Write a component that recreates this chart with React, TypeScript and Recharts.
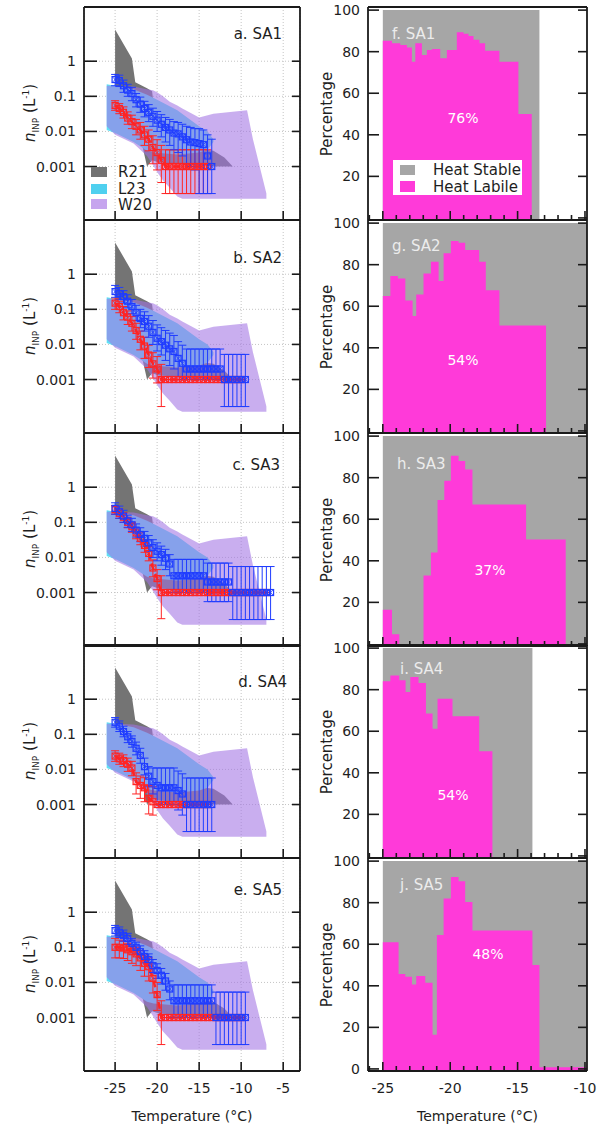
import React from 'react';
import { ComposedChart, Area, Line, Scatter, ErrorBar, XAxis, YAxis, CartesianGrid } from 'recharts';

const FONT = '"DejaVu Sans", "Liberation Sans", Arial, sans-serif';
const INK = '#1e1e1e';
const BLUE = '#1f3cff';
const RED = '#ff2424';
const MAGENTA = '#ff3ad9';
const STABLE = '#a6a6a6';

// rows of the figure (page px)
const ROW_TOP = [7, 220, 433, 645, 858];
const ROW_H = 213;
const MT = 8;

// shared temperature grid of the INP spectra
const TEMPS = [-25, -24.5, -24, -23.5, -23, -22.5, -22, -21.5, -21, -20.5, -20, -19.5, -19, -18.5, -18, -17.5, -17, -16.5, -16, -15.5,
  -15, -14.5, -14, -13.5, -13, -12.5, -12, -11.5, -11, -10.5, -10, -9.5, -9, -8.5, -8, -7.5, -7, -6.5];

const LEFT_XTICKS = [-25, -20, -15, -10, -5];
const NINP_TICKS = [0.001, 0.01, 0.1, 1];
const RIGHT_XTICKS = [-25, -20, -15, -10];
const RIGHT_ALL_XTICKS = [-26, -25, -24, -23, -22, -21, -20, -19, -18, -17, -16, -15, -14, -13, -12, -11, -10];
const PCT_TICKS = [20, 40, 60, 80, 100];
const PCT_TICKS_LAST = [0, 20, 40, 60, 80, 100];

// literature ranges: temperature, lower, upper
const R21_T = [-25, -23, -22.6, -21.2, -20.6, -19.8, -15.2, -13.3, -12, -11];
const R21_LO = [0.2, 0.05, 0.03, 0.001, 0.0015, 0.0013, 0.0011, 0.001, 0.001, 0.001];
const R21_HI = [8, 1.2, 0.25, 0.17, 0.14, 0.004, 0.0032, 0.0028, 0.0018, 0.001];
const L23_T = [-26, -25, -22.8, -21.2, -20.4, -17.6, -15, -14, -13.3];
const L23_LO = [0.011, 0.009, 0.005, 0.0028, 0.0025, 0.0022, 0.0025, 0.003, 0.005];
const L23_HI = [0.22, 0.2, 0.16, 0.11, 0.09, 0.04, 0.014, 0.01, 0.006];
const W20_T = [-26, -25, -22.8, -21.2, -20.5, -20, -19.3, -18.5, -17.6, -17, -15, -13.3, -9.3, -8.6, -7];
const W20_LO = [0.014, 0.008, 0.0045, 0.002, 0.0011, 0.0007, 0.0004, 0.00025, 0.00014, 0.00012, 0.00012, 0.00012, 0.00012, 0.00012, 0.00012];
const W20_HI = [0.2, 0.2, 0.19, 0.16, 0.15, 0.13, 0.1, 0.07, 0.055, 0.045, 0.025, 0.032, 0.04, 0.006, 0.00017];

const LIT_NAMES = ['R21', 'L23', 'W20'];
const LIT_SWATCH = ['#727272', '#4fd0ef', '#c6a5ee'];

// SA1
const BLUE_A = [0.3, 0.28, 0.2, 0.15, 0.12, 0.08, 0.06, 0.045, 0.035, 0.027, 0.021, 0.016, 0.013, 0.011, 0.009, 0.0085, 0.007, 0.0058, 0.005, 0.0048, 0.0045, 0.0042, 0.002, 0.001];
const BLUE_A_HI = [0.42, 0.4, 0.29, 0.22, 0.18, 0.12, 0.095, 0.072, 0.058, 0.046, 0.037, 0.03, 0.025, 0.022, 0.019, 0.018, 0.016, 0.014, 0.013, 0.012, 0.012, 0.011, 0.008, 0.006];
const BLUE_A_LO = [0.2, 0.19, 0.13, 0.1, 0.075, 0.05, 0.035, 0.026, 0.019, 0.014, 0.01, 0.007, 0.005, 0.004, 0.003, 0.0025, 0.002, 0.0012, 0.001, 0.0008, 0.00017, 0.00017, 0.00017, 0.00017];
const RED_A = [0.055, 0.045, 0.035, 0.024, 0.019, 0.014, 0.011, 0.008, 0.006, 0.0035, 0.0025, 0.0015, 0.001, 0.001, 0.001, 0.001, 0.001, 0.001, 0.001, 0.001, 0.001, 0.001, 0.001];
const RED_A_HI = [0.075, 0.062, 0.05, 0.036, 0.029, 0.022, 0.018, 0.014, 0.011, 0.0075, 0.0058, 0.004, 0.003, 0.003, 0.003, 0.003, 0.003, 0.003, 0.003, 0.003, 0.003, 0.003, 0.003];
const RED_A_LO = [0.04, 0.032, 0.024, 0.016, 0.012, 0.008, 0.006, 0.004, 0.0028, 0.0012, 0.0008, 0.00035, 0.00017, 0.00017, 0.00017, 0.00017, 0.00017, 0.00017, 0.00017, 0.00017, 0.00017, 0.00017, 0.00017];

// SA2
const BLUE_B = [0.32, 0.28, 0.23, 0.17, 0.12, 0.08, 0.055, 0.045, 0.033, 0.022, 0.015, 0.012, 0.0095, 0.0075, 0.0063, 0.004, 0.0029,
  0.002, 0.002, 0.002, 0.002, 0.002, 0.002, 0.002, 0.002, 0.002, 0.001, 0.001, 0.001, 0.001, 0.001, 0.001];
const BLUE_B_HI = [0.48, 0.42, 0.34, 0.26, 0.19, 0.13, 0.1, 0.085, 0.066, 0.048, 0.036, 0.03, 0.025, 0.021, 0.018, 0.012, 0.0095,
  0.0074, 0.0074, 0.0074, 0.0074, 0.0074, 0.0074, 0.0074, 0.0074, 0.0074, 0.0052, 0.0052, 0.0052, 0.0052, 0.0052, 0.0052];
const BLUE_B_LO = [0.22, 0.19, 0.15, 0.11, 0.075, 0.048, 0.03, 0.024, 0.016, 0.01, 0.0065, 0.005, 0.0035, 0.0025, 0.002, 0.0012, 0.001,
  0.001, 0.001, 0.001, 0.001, 0.001, 0.001, 0.001, 0.001, 0.001, 0.00017, 0.00017, 0.00017, 0.00017, 0.00017, 0.00017];
const RED_B = [0.15, 0.12, 0.08, 0.06, 0.04, 0.025, 0.014, 0.009, 0.005, 0.0028, 0.002,
  0.001, 0.001, 0.001, 0.001, 0.001, 0.001, 0.001, 0.001, 0.001, 0.001, 0.001, 0.001, 0.001, 0.001, 0.001, 0.001, 0.001, 0.001, 0.001, 0.001];
const RED_B_HI = [0.21, 0.17, 0.12, 0.09, 0.062, 0.04, 0.024, 0.016, 0.0095, 0.0058, 0.0045,
  0.0027, 0.001, 0.001, 0.001, 0.001, 0.001, 0.001, 0.001, 0.001, 0.001, 0.001, 0.001, 0.001, 0.001, 0.001, 0.001, 0.001, 0.001, 0.001, 0.001];
const RED_B_LO = [0.1, 0.08, 0.05, 0.037, 0.024, 0.014, 0.007, 0.004, 0.0022, 0.0011, 0.0008,
  0.00017, 0.001, 0.001, 0.001, 0.001, 0.001, 0.001, 0.001, 0.001, 0.001, 0.001, 0.001, 0.001, 0.001, 0.001, 0.001, 0.001, 0.001, 0.001, 0.001];

// SA3
const BLUE_C = [0.25, 0.2, 0.15, 0.11, 0.085, 0.06, 0.045, 0.035, 0.026, 0.019, 0.015, 0.012, 0.0095, 0.0065,
  0.003, 0.003, 0.003, 0.003, 0.003, 0.003, 0.003, 0.003, 0.002, 0.002, 0.002, 0.002, 0.002, 0.002,
  0.001, 0.001, 0.001, 0.001, 0.001, 0.001, 0.001, 0.001, 0.001, 0.001];
const BLUE_C_HI = [0.36, 0.29, 0.22, 0.16, 0.13, 0.09, 0.07, 0.055, 0.042, 0.032, 0.026, 0.021, 0.017, 0.012,
  0.0088, 0.0088, 0.0088, 0.0088, 0.0088, 0.0088, 0.0088, 0.0088, 0.0069, 0.0069, 0.0069, 0.0069, 0.0069, 0.0069,
  0.0055, 0.0055, 0.0055, 0.0055, 0.0055, 0.0055, 0.0055, 0.0055, 0.0055, 0.0055];
const BLUE_C_LO = [0.17, 0.13, 0.1, 0.072, 0.055, 0.038, 0.028, 0.021, 0.015, 0.01, 0.008, 0.006, 0.0045, 0.003,
  0.001, 0.001, 0.001, 0.001, 0.001, 0.001, 0.001, 0.001, 0.00055, 0.00055, 0.00055, 0.00055, 0.00055, 0.00055,
  0.00017, 0.00017, 0.00017, 0.00017, 0.00017, 0.00017, 0.00017, 0.00017, 0.00017, 0.00017];
const RED_C = [0.23, 0.18, 0.14, 0.1, 0.075, 0.05, 0.035, 0.022, 0.013, 0.005, 0.0025,
  0.001, 0.001, 0.001, 0.001, 0.001, 0.001, 0.001, 0.001, 0.001, 0.001, 0.001, 0.001, 0.001, 0.001, 0.001, 0.001, 0.001, 0.001, 0.001, 0.001,
  0.001, 0.001, 0.001, 0.001, 0.001, 0.001];
const RED_C_HI = [0.3, 0.24, 0.19, 0.14, 0.1, 0.07, 0.05, 0.032, 0.02, 0.0085, 0.0045,
  0.003, 0.001, 0.001, 0.001, 0.001, 0.001, 0.001, 0.001, 0.001, 0.001, 0.001, 0.001, 0.001, 0.001, 0.001, 0.001, 0.001, 0.001, 0.001, 0.001,
  0.001, 0.001, 0.001, 0.001, 0.001, 0.001];
const RED_C_LO = [0.17, 0.13, 0.1, 0.07, 0.052, 0.034, 0.023, 0.014, 0.008, 0.0028, 0.0012,
  0.00018, 0.001, 0.001, 0.001, 0.001, 0.001, 0.001, 0.001, 0.001, 0.001, 0.001, 0.001, 0.001, 0.001, 0.001, 0.001, 0.001, 0.001, 0.001, 0.001,
  0.001, 0.001, 0.001, 0.001, 0.001, 0.001];

// SA4
const BLUE_D = [0.22, 0.17, 0.12, 0.085, 0.063, 0.04, 0.025, 0.012, 0.0064, 0.0045, 0.0035, 0.003, 0.003, 0.003, 0.003, 0.0025, 0.002,
  0.001, 0.001, 0.001, 0.001, 0.001, 0.001, 0.001];
const BLUE_D_HI = [0.3, 0.24, 0.17, 0.12, 0.09, 0.06, 0.04, 0.021, 0.012, 0.011, 0.011, 0.011, 0.011, 0.011, 0.011, 0.009, 0.0075,
  0.0057, 0.0057, 0.0057, 0.0057, 0.0057, 0.0057, 0.0057];
const BLUE_D_LO = [0.16, 0.12, 0.085, 0.058, 0.043, 0.026, 0.015, 0.007, 0.0032, 0.002, 0.0012, 0.001, 0.001, 0.001, 0.001, 0.0007, 0.0005,
  0.00017, 0.00017, 0.00017, 0.00017, 0.00017, 0.00017, 0.00017];
const RED_D = [0.024, 0.02, 0.018, 0.014, 0.011, 0.0045, 0.0035, 0.003, 0.0015, 0.0012,
  0.001, 0.001, 0.001, 0.001, 0.001, 0.001, 0.001, 0.001, 0.001, 0.001, 0.001, 0.001, 0.001];
const RED_D_HI = [0.034, 0.029, 0.026, 0.021, 0.017, 0.008, 0.0065, 0.0058, 0.0035, 0.0032,
  0.001, 0.001, 0.001, 0.001, 0.001, 0.001, 0.001, 0.001, 0.001, 0.001, 0.001, 0.001, 0.001];
const RED_D_LO = [0.017, 0.014, 0.012, 0.0088, 0.0066, 0.002, 0.0015, 0.0012, 0.00054, 0.0005,
  0.001, 0.001, 0.001, 0.001, 0.001, 0.001, 0.001, 0.001, 0.001, 0.001, 0.001, 0.001, 0.001];

// SA5
const BLUE_E = [0.3, 0.27, 0.22, 0.18, 0.13, 0.1, 0.075, 0.055, 0.045, 0.03, 0.022, 0.016, 0.011, 0.0065,
  0.003, 0.003, 0.003, 0.003, 0.003, 0.003, 0.003, 0.003, 0.003, 0.003,
  0.001, 0.001, 0.001, 0.001, 0.001, 0.001, 0.001, 0.001];
const BLUE_E_HI = [0.42, 0.38, 0.31, 0.25, 0.18, 0.14, 0.11, 0.08, 0.065, 0.045, 0.034, 0.025, 0.018, 0.011,
  0.0085, 0.0085, 0.0085, 0.0085, 0.0085, 0.0085, 0.0085, 0.0085, 0.0085, 0.0085,
  0.0053, 0.0053, 0.0053, 0.0053, 0.0053, 0.0053, 0.0053, 0.0053];
const BLUE_E_LO = [0.21, 0.19, 0.15, 0.12, 0.09, 0.068, 0.05, 0.036, 0.029, 0.019, 0.013, 0.009, 0.006, 0.0032,
  0.001, 0.001, 0.001, 0.001, 0.001, 0.001, 0.001, 0.001, 0.001, 0.001,
  0.00017, 0.00017, 0.00017, 0.00017, 0.00017, 0.00017, 0.00017, 0.00017];
const RED_E = [0.1, 0.1, 0.095, 0.085, 0.075, 0.065, 0.05, 0.035, 0.028, 0.013, 0.0045,
  0.001, 0.001, 0.001, 0.001, 0.001, 0.001, 0.001, 0.001, 0.001, 0.001, 0.001, 0.001, 0.001, 0.001, 0.001, 0.001, 0.001, 0.001, 0.001, 0.001];
const RED_E_HI = [0.18, 0.16, 0.15, 0.13, 0.11, 0.1, 0.08, 0.06, 0.05, 0.025, 0.01,
  0.003, 0.001, 0.001, 0.001, 0.001, 0.001, 0.001, 0.001, 0.001, 0.001, 0.001, 0.001, 0.001, 0.001, 0.001, 0.001, 0.001, 0.001, 0.001, 0.001];
const RED_E_LO = [0.05, 0.05, 0.048, 0.042, 0.035, 0.03, 0.022, 0.015, 0.011, 0.005, 0.0016,
  0.00017, 0.001, 0.001, 0.001, 0.001, 0.001, 0.001, 0.001, 0.001, 0.001, 0.001, 0.001, 0.001, 0.001, 0.001, 0.001, 0.001, 0.001, 0.001, 0.001];

// heat labile fraction (%), step edges in degC
const LAB_F_T = [-25, -24.32, -23.7, -23.21, -22.84, -22.59, -22.1, -21.73, -21.36, -20.74, -20.25, -19.51, -19.01, -18.64, -18.27, -17.83, -17.41, -16.35, -14.94, -13.95];
const LAB_F = [85.3, 84, 83.2, 82, 75.2, 84, 78.4, 80.8, 81.3, 76.8, 80.8, 89.3, 88.6, 87.6, 85.7, 84, 80.5, 75.2, 50];
const LAB_G_T = [-25, -24.44, -23.88, -23.33, -22.79, -22.52, -21.98, -21.43, -20.86, -20.49, -19.95, -19.38, -18.89, -17.85, -17.36, -16.35, -12.89];
const LAB_G = [64.9, 74.6, 73.3, 62.8, 55.3, 65.6, 75.8, 81.4, 72.2, 85.5, 91.4, 90.6, 87.1, 81.4, 67.7, 50.7];
const LAB_H_T = [-25, -24.32, -23.78, -21.98, -21.43, -20.94, -20.44, -19.95, -19.38, -18.89, -18.35, -14.37, -11.43];
const LAB_H = [16.5, 4.6, 0, 32.9, 44, 69.3, 78.5, 90.5, 88, 83.9, 67.1, 50.2];
const LAB_I_T = [-25, -24.44, -23.78, -23.31, -22.96, -22.35, -21.8, -21.31, -20.94, -19.83, -17.85, -16.87];
const LAB_I = [84, 86.8, 84.5, 78.9, 86.1, 83.2, 68.5, 61.2, 75.6, 67.2, 50.4];
const LAB_J_T = [-25, -23.83, -23.33, -22.84, -22.52, -21.85, -21.31, -20.99, -20.49, -19.95, -19.38, -18.89, -18.35, -13.9, -13.38, -9.85];
const LAB_J = [61, 45.7, 44.4, 40.6, 44.7, 41.5, 16.5, 64.5, 82, 92.3, 90.3, 80.3, 66.6, 50, 0.8];
// extent of the measured (heat stable + labile) range
const STABLE_END = [-13.38, -9.85, -9.85, -13.9, -9.85];
const TOTAL_LABILE = ['76%', '54%', '37%', '54%', '48%'];

const toRange = (t: number[], lo: number[], hi: number[]) => t.map((x, i) => ({ t: x, r: [lo[i], hi[i]] }));
const toPoints = (v: number[], lo: number[], hi: number[]) =>
  v.map((y, i) => ({ t: TEMPS[i], v: y, err: [y - lo[i], hi[i] - y] }));
const toSteps = (t: number[], v: number[]) => t.map((x, i) => ({ t: x, v: v[Math.min(i, v.length - 1)] }));

const R21 = toRange(R21_T, R21_LO, R21_HI);
const L23 = toRange(L23_T, L23_LO, L23_HI);
const W20 = toRange(W20_T, W20_LO, W20_HI);

const LEFT = [
  { tag: 'a. SA1', blue: toPoints(BLUE_A, BLUE_A_LO, BLUE_A_HI), red: toPoints(RED_A, RED_A_LO, RED_A_HI) },
  { tag: 'b. SA2', blue: toPoints(BLUE_B, BLUE_B_LO, BLUE_B_HI), red: toPoints(RED_B, RED_B_LO, RED_B_HI) },
  { tag: 'c. SA3', blue: toPoints(BLUE_C, BLUE_C_LO, BLUE_C_HI), red: toPoints(RED_C, RED_C_LO, RED_C_HI) },
  { tag: 'd. SA4', blue: toPoints(BLUE_D, BLUE_D_LO, BLUE_D_HI), red: toPoints(RED_D, RED_D_LO, RED_D_HI) },
  { tag: 'e. SA5', blue: toPoints(BLUE_E, BLUE_E_LO, BLUE_E_HI), red: toPoints(RED_E, RED_E_LO, RED_E_HI) },
];
const RIGHT = [
  { tag: 'f. SA1', lab: toSteps(LAB_F_T, LAB_F) },
  { tag: 'g. SA2', lab: toSteps(LAB_G_T, LAB_G) },
  { tag: 'h. SA3', lab: toSteps(LAB_H_T, LAB_H) },
  { tag: 'i. SA4', lab: toSteps(LAB_I_T, LAB_I) },
  { tag: 'j. SA5', lab: toSteps(LAB_J_T, LAB_J) },
];

// layout of texts placed over the panels
const LEFT_TAG_POS = [[282, 34], [282, 258], [280, 465], [287, 682], [282, 890]];
const RIGHT_TAG_POS = [[392, 34], [392, 246], [397, 464], [400, 669], [400, 885]];
const PCT_POS = [[463, 118], [463, 360], [490, 570], [453, 795], [488, 954]];

const L_DOM = [-28.7, -3];
const N_DOM = [3e-5, 35];
const R_DOM = [-26.1, -9.85];
const P_DOM = [-1, 101.5];

const AX = { stroke: '#1a1a1a', strokeWidth: 1.8 };

// inward tick marks (tickSize 0 puts x/y on the axis line), optional label
const inwardTick = (side: string, majors: number[] | null, majorLen: number, minorLen: number, showLabel: boolean) => (props: any) => {
  const { x, y, payload } = props;
  const v = payload.value;
  const major = !majors || majors.includes(v);
  const len = major ? majorLen : minorLen;
  const d = side === 'bottom' ? [0, -len] : side === 'top' ? [0, len] : side === 'left' ? [len, 0] : [-len, 0];
  let label = null;
  if (showLabel && major) {
    label = side === 'left'
      ? <text x={x - 8} y={y} textAnchor="end" dominantBaseline="central" fill={INK} fontSize={14} fontFamily={FONT}>{String(v)}</text>
      : <text x={x} y={y + 17} textAnchor="middle" dominantBaseline="central" fill={INK} fontSize={14} fontFamily={FONT}>{String(v)}</text>;
  }
  return (
    <g>
      <line x1={x} y1={y} x2={x + d[0]} y2={y + d[1]} stroke="#1a1a1a" strokeWidth={1.6} />
      {label}
    </g>
  );
};

// open square with a cross, as in the measured spectra
const marker = (color: string) => (p: any) => (
  <g stroke={color} strokeWidth={1.2} fill="none">
    <rect x={p.cx - 3} y={p.cy - 3} width={6} height={6} />
    <path d={`M${p.cx - 3},${p.cy - 3}L${p.cx + 3},${p.cy + 3}M${p.cx - 3},${p.cy + 3}L${p.cx + 3},${p.cy - 3}`} strokeWidth={0.8} />
  </g>
);

function Txt({ x, y, children, anchor = 'middle', color = INK, size = 15, rotate = false }: any) {
  const tx = anchor === 'start' ? '0' : anchor === 'end' ? '-100%' : '-50%';
  return (
    <div
      style={{
        position: 'absolute', left: x, top: y, whiteSpace: 'nowrap', lineHeight: 1,
        transform: `translate(${tx}, -50%)${rotate ? ' rotate(-90deg)' : ''}`,
        fontFamily: FONT, fontSize: size, color,
      }}
    >
      {children}
    </div>
  );
}

const X_TITLE_H = 56;
const xLabel = { value: 'Temperature (°C)', position: 'insideBottom', offset: 6, fill: INK, fontSize: 14, fontFamily: FONT };

function NinpPanel({ row }: { row: number }) {
  const p = LEFT[row];
  const last = row === 4;
  const xh = last ? X_TITLE_H : 1;
  return (
    <div style={{ position: 'absolute', left: 0, top: ROW_TOP[row] - MT }}>
      <ComposedChart width={306} height={MT + ROW_H + xh} margin={{ top: MT - 1, right: 5, bottom: 0, left: 0 }}>
        <CartesianGrid stroke="#c4c4c4" strokeDasharray="1 2" />
        <XAxis type="number" dataKey="t" domain={L_DOM} allowDataOverflow ticks={LEFT_XTICKS} interval={0}
          height={xh} tickSize={0} tickMargin={0} tickLine={false} axisLine={AX}
          tick={inwardTick('bottom', null, 9, 9, last)} label={last ? xLabel : undefined} />
        <XAxis xAxisId="top" orientation="top" type="number" domain={L_DOM} allowDataOverflow ticks={LEFT_XTICKS}
          interval={0} height={1} tickSize={0} tickMargin={0} tickLine={false} axisLine={AX} tick={inwardTick('top', null, 9, 9, false)} />
        <YAxis type="number" scale="log" domain={N_DOM} allowDataOverflow ticks={NINP_TICKS} interval={0} width={84}
          tickSize={0} tickMargin={0} tickLine={false} axisLine={AX} tick={inwardTick('left', null, 13, 13, true)} />
        <YAxis yAxisId="right" orientation="right" type="number" scale="log" domain={N_DOM} allowDataOverflow
          ticks={NINP_TICKS} interval={0} width={1} tickSize={0} tickMargin={0} tickLine={false} axisLine={AX}
          tick={inwardTick('right', null, 8, 8, false)} />
        <Area data={R21} dataKey="r" fill="#747474" fillOpacity={1} stroke="none" dot={false} activeDot={false} isAnimationActive={false} />
        <Area data={L23} dataKey="r" fill="#5fe0f5" fillOpacity={1} stroke="none" dot={false} activeDot={false} isAnimationActive={false} />
        <Area data={W20} dataKey="r" fill="#a274e4" fillOpacity={0.58} stroke="none" dot={false} activeDot={false} isAnimationActive={false} />
        <Line data={p.red} dataKey="v" stroke={RED} strokeWidth={2.4} strokeDasharray="7 4" dot={false} activeDot={false} isAnimationActive={false} />
        <Scatter data={p.red} dataKey="v" shape={marker(RED)} isAnimationActive={false}>
          <ErrorBar dataKey="err" direction="y" width={4} stroke={RED} strokeWidth={1} isAnimationActive={false} />
        </Scatter>
        <Scatter data={p.blue} dataKey="v" shape={marker(BLUE)} isAnimationActive={false}>
          <ErrorBar dataKey="err" direction="y" width={4} stroke={BLUE} strokeWidth={1} isAnimationActive={false} />
        </Scatter>
      </ComposedChart>
    </div>
  );
}

function HeatPanel({ row }: { row: number }) {
  const p = RIGHT[row];
  const last = row === 4;
  const xh = last ? X_TITLE_H : 1;
  const stable = [{ t: -25, v: 100 }, { t: STABLE_END[row], v: 100 }];
  return (
    <div style={{ position: 'absolute', left: 300, top: ROW_TOP[row] - MT }}>
      <ComposedChart width={298} height={MT + ROW_H + xh} margin={{ top: MT - 1, right: 10, bottom: 0, left: 0 }}>
        <XAxis type="number" dataKey="t" domain={R_DOM} allowDataOverflow ticks={RIGHT_ALL_XTICKS} interval={0}
          height={xh} tickSize={0} tickMargin={0} tickLine={false} axisLine={AX}
          tick={inwardTick('bottom', RIGHT_XTICKS, 9, 5, last)} label={last ? xLabel : undefined} />
        <XAxis xAxisId="top" orientation="top" type="number" domain={R_DOM} allowDataOverflow ticks={RIGHT_ALL_XTICKS}
          interval={0} height={1} tickSize={0} tickMargin={0} tickLine={false} axisLine={AX}
          tick={inwardTick('top', RIGHT_XTICKS, 9, 5, false)} />
        <YAxis type="number" domain={P_DOM} allowDataOverflow ticks={last ? PCT_TICKS_LAST : PCT_TICKS} interval={0} width={68}
          tickSize={0} tickMargin={0} tickLine={false} axisLine={AX} tick={inwardTick('left', null, 11, 11, true)} />
        <YAxis yAxisId="right" orientation="right" type="number" domain={P_DOM} allowDataOverflow
          ticks={PCT_TICKS_LAST} interval={0} width={1} tickSize={0} tickMargin={0} tickLine={false} axisLine={AX}
          tick={inwardTick('right', null, 9, 9, false)} />
        <Area data={stable} dataKey="v" baseValue="dataMin" fill={STABLE} fillOpacity={1} stroke="none" dot={false} activeDot={false} isAnimationActive={false} />
        <Area data={p.lab} dataKey="v" type="stepAfter" baseValue="dataMin" fill={MAGENTA} fillOpacity={1} stroke="none" dot={false} activeDot={false} isAnimationActive={false} />
      </ComposedChart>
    </div>
  );
}

export default function App() {
  const rows = [0, 1, 2, 3, 4];
  return (
    <div style={{ position: 'absolute', left: 0, top: 0, width: 598, height: 1127, background: '#fff', overflow: 'hidden' }}>
      {rows.map((r) => <NinpPanel key={'l' + r} row={r} />)}
      {rows.map((r) => <HeatPanel key={'r' + r} row={r} />)}

      {rows.map((r) => (
        <React.Fragment key={'t' + r}>
          <Txt x={31} y={ROW_TOP[r] + 106} rotate>
            <i>n</i><sub style={{ fontSize: 9 }}>INP</sub> (L<sup style={{ fontSize: 9 }}>-1</sup>)
          </Txt>
          <Txt x={327} y={ROW_TOP[r] + 107} rotate>Percentage</Txt>
          <Txt x={LEFT_TAG_POS[r][0]} y={LEFT_TAG_POS[r][1]} anchor="end">{LEFT[r].tag}</Txt>
          <Txt x={RIGHT_TAG_POS[r][0]} y={RIGHT_TAG_POS[r][1]} anchor="start" color="#ececec">{RIGHT[r].tag}</Txt>
          <Txt x={PCT_POS[r][0]} y={PCT_POS[r][1]} color="#fff" size={14}>{TOTAL_LABILE[r]}</Txt>
        </React.Fragment>
      ))}

      {LIT_NAMES.map((name, i) => (
        <React.Fragment key={name}>
          <div style={{ position: 'absolute', left: 91, top: [167, 184, 199][i], width: 16, height: 10, background: LIT_SWATCH[i] }} />
          <Txt x={118} y={[172, 189, 205][i]} anchor="start">{name}</Txt>
        </React.Fragment>
      ))}

      <div style={{ position: 'absolute', left: 393, top: 160, width: 129, height: 35, background: '#fff' }} />
      <div style={{ position: 'absolute', left: 400, top: 165, width: 15, height: 10, background: STABLE }} />
      <div style={{ position: 'absolute', left: 400, top: 181, width: 15, height: 11, background: MAGENTA }} />
      <Txt x={433} y={170} anchor="start">Heat Stable</Txt>
      <Txt x={433} y={187} anchor="start">Heat Labile</Txt>
    </div>
  );
}
